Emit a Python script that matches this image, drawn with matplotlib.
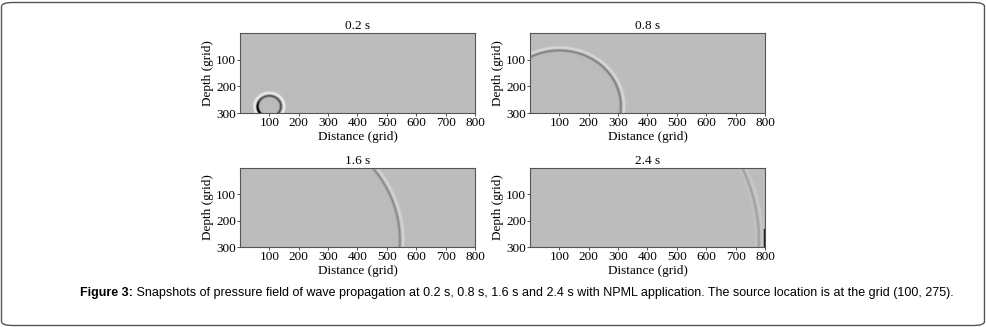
import numpy as np
import matplotlib
matplotlib.use("Agg")
import matplotlib.pyplot as plt
from matplotlib.colors import LinearSegmentedColormap
from matplotlib.patches import FancyBboxPatch

# ---- data ----
titles = ["0.2 s", "0.8 s", "1.6 s", "2.4 s"]
front_radius = [45, 215, 450, 685]          # wavefront radius (grid) at each snapshot
front_amp = [0.8, 0.45, 0.38, 0.2]          # relative amplitude of the front
source_xy = (100, 275)                        # source location (grid)
nx, nz = 800, 300
xticks = [100, 200, 300, 400, 500, 600, 700, 800]
yticks = [100, 200, 300]
caption_bold = "Figure 3:"
caption_rest = (" Snapshots of pressure field of wave propagation at 0.2 s, 0.8 s, 1.6 s and 2.4 s "
                "with NPML application. The source location is at the grid (100, 275).")

serif = "Liberation Serif"
W, H = 987, 327
fig = plt.figure(figsize=(W / 100, H / 100), dpi=100)

cmap = LinearSegmentedColormap.from_list("pf", ["#000000", "#bcbcbc", "#ffffff"])

x = np.arange(nx) + 0.5
z = np.arange(nz) + 0.5
X, Z = np.meshgrid(x, z)
dist = np.hypot(X - source_xy[0], Z - source_xy[1])
ang = np.arctan2(Z - source_xy[1], X - source_xy[0])

boxes = [(240, 475, 33, 113), (530, 765, 33, 113), (240, 475, 168, 247), (530, 765, 168, 247)]

for i, (l, r, t, b) in enumerate(boxes):
    ax = fig.add_axes([l / W, 1 - b / H, (r - l) / W, (b - t) / H])
    R = front_radius[i]
    w = 6.0
    d = (dist - R) / w
    # light outer band, darker inner band
    light = np.exp(-((d - 0.9) / 0.8) ** 2)
    dark = np.exp(-((d + 0.9) / 0.7) ** 2)
    field = front_amp[i] * (1.0 * light - 0.8 * dark)
    if i == 0:
        # dark crescent on the lower-left side of the first ring
        crescent = np.clip(np.cos(ang - 2.6), 0, None) ** 2
        field -= 0.9 * crescent * np.exp(-((d + 0.6) / 0.6) ** 2)
    if i == 3:
        # faint inner echo and reflected edge at right boundary
        d2 = (dist - (R - 18)) / 4.0
        field += 0.12 * np.exp(-((d2 - 0.6) / 0.7) ** 2)
        edge = np.zeros_like(field)
        edge[(Z > 232) & (X > 796)] = -0.9
        field += edge
    ax.imshow(field, cmap=cmap, vmin=-1, vmax=1, extent=[0, nx, nz, 0],
              aspect="auto", interpolation="bilinear")
    ax.set_xlim(0, nx)
    ax.set_ylim(nz, 0)
    ax.set_xticks(xticks)
    ax.set_yticks(yticks)
    ax.tick_params(labelsize=9.5, length=2, width=0.6, pad=1, colors="#333333",
                   labelcolor="black")
    for lab in ax.get_xticklabels() + ax.get_yticklabels():
        lab.set_fontfamily(serif)
    for s in ax.spines.values():
        s.set_color("#555555")
        s.set_linewidth(0.8)
    ax.set_title(titles[i], fontsize=9.5, family=serif, pad=3)
    ax.set_xlabel("Distance (grid)", fontsize=9.5, family=serif, labelpad=1)
    ax.set_ylabel("Depth (grid)", fontsize=9.5, family=serif, labelpad=1)

# outer frame
frame = FancyBboxPatch((1.5 / W, 1.5 / H), (W - 4) / W, (H - 4) / H,
                       boxstyle="round,pad=0,rounding_size=0.012",
                       transform=fig.transFigure, fill=False,
                       edgecolor="#555555", linewidth=1.0)
fig.patches.append(frame)

cap_font = ["Liberation Sans", "DejaVu Sans"]
t1 = fig.text(80 / W, 1 - 293 / H, caption_bold, fontsize=9, fontweight="bold",
              family=cap_font, va="center", ha="left")
fig.canvas.draw()
bb = t1.get_window_extent()
fig.text(bb.x1 / W, 1 - 293 / H, caption_rest, fontsize=9, family=cap_font,
         va="center", ha="left")

fig.savefig("out.png", dpi=100)
